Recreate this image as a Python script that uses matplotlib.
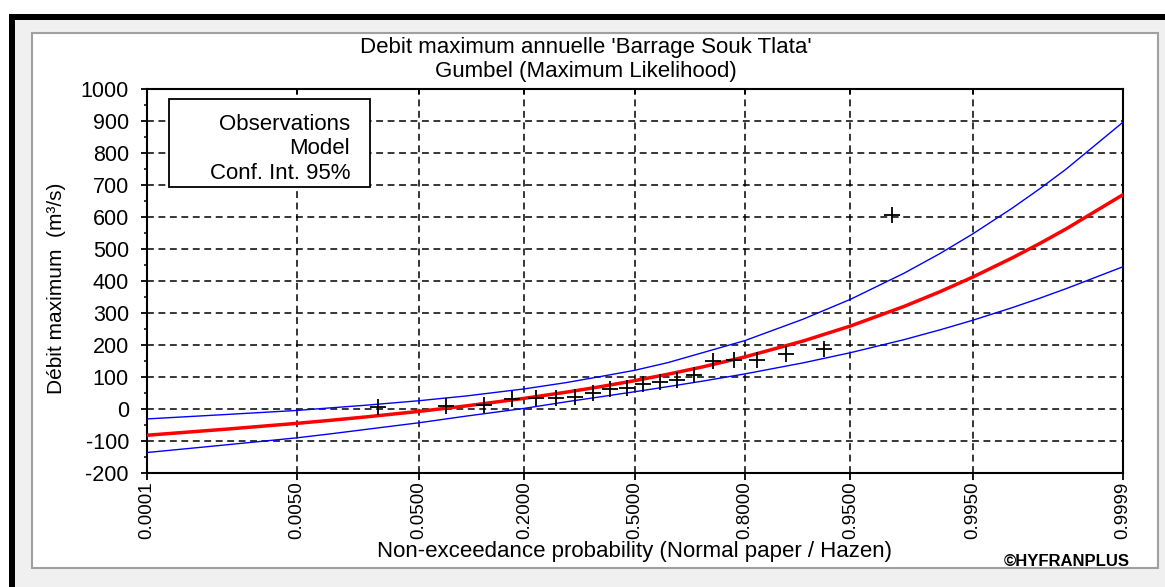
import numpy as np
import matplotlib
matplotlib.use("Agg")
import matplotlib.pyplot as plt
from matplotlib.patches import Rectangle
from statistics import NormalDist

# HYFRAN style Gumbel fit on normal probability paper

title_lines = ["Debit maximum annuelle 'Barrage Souk Tlata'", "Gumbel (Maximum Likelihood)"]
legend_labels = ["Observations", "Model", "Conf. Int. 95%"]
xlabel = "Non-exceedance probability (Normal paper / Hazen)"
ylabel = "Débit maximum  (m³/s)"

# 20 annual maxima, Hazen plotting positions, flows
obs_prob = [0.025, 0.075, 0.125, 0.175, 0.225, 0.275, 0.325, 0.375, 0.425, 0.475,
            0.525, 0.575, 0.625, 0.675, 0.725, 0.775, 0.825, 0.875, 0.925, 0.975]
obs_flow = [5, 9, 12, 32, 33, 35, 36, 50, 62, 65,
            78, 85, 90, 106, 151, 153, 154, 172, 186, 606]

# fitted model and 95% band, read at these probabilities
curve_prob = [0.0001, 0.0005, 0.001, 0.005, 0.01, 0.02, 0.05, 0.1, 0.2, 0.3, 0.4, 0.5,
              0.6, 0.7, 0.8, 0.9, 0.95, 0.98, 0.99, 0.995, 0.998, 0.999, 0.9995, 0.9999]
model_flow = [-82, -68.5, -62.2, -44.8, -35.6, -24.9, -7.4, 9.9, 33.4, 52.4, 70.3, 88.6,
              108.7, 132.2, 163.0, 212.2, 259.4, 320.6, 366.4, 412.0, 472.2, 517.7, 563.2, 668.8]
ci_upper = [-31, -21.2, -16.6, -4.5, 3.3, 11.7, 25.9, 40.9, 62.9, 82.4, 102.0, 121.0,
            145.0, 176.8, 214.0, 280.4, 342.8, 424.4, 485.6, 546.8, 627.7, 688.9, 750.1, 895.0]
ci_lower = [-136, -119, -111, -90, -78, -64, -43, -22, 2.0, 22.4, 38.6, 54.0,
            69.9, 87.6, 109.8, 144.0, 176.0, 216.8, 247.2, 277.2, 316.7, 346.5, 376.3, 444.0]

tick_prob = [0.0001, 0.005, 0.05, 0.2, 0.5, 0.8, 0.95, 0.995, 0.9999]

W, H = 1165, 587
plt.rcParams["font.family"] = ["Liberation Sans", "DejaVu Sans"]
plt.rcParams["axes.unicode_minus"] = False

nd = NormalDist()
_ppf = np.vectorize(nd.inv_cdf, otypes=[float])
_cdf = np.vectorize(nd.cdf, otypes=[float])


def to_z(p):
    p = np.clip(np.asarray(p, dtype=float), 1e-9, 1 - 1e-9)
    return _ppf(p)


def from_z(z):
    return _cdf(np.asarray(z, dtype=float))


def box(x0, y0, x1, y1, **kw):
    # rectangle given in screen pixels (top-left origin)
    return Rectangle((x0 / W, 1 - y1 / H), (x1 - x0) / W, (y1 - y0) / H,
                     transform=fig.transFigure, **kw)


fig = plt.figure(figsize=(W / 100, H / 100), dpi=100)
fig.patch.set_facecolor("white")
fig.add_artist(box(9, 14, W, H, facecolor="black", edgecolor="none", zorder=-3))
fig.add_artist(box(15, 20, W, H, facecolor="#f0f0f0", edgecolor="none", zorder=-2))
fig.add_artist(box(32, 33, 1158, 568, facecolor="white", edgecolor="#a0a0a0", lw=1.5, zorder=-1))

ax = fig.add_axes([147 / W, 1 - 473 / H, 975.5 / W, 384 / H])
ax.set_xscale("function", functions=(to_z, from_z))
ax.set_xlim(0.0001, 0.9999)
ax.set_ylim(-200, 1000)

ax.plot(curve_prob, ci_upper, color="#0000ff", lw=1.0, zorder=3)
ax.plot(curve_prob, ci_lower, color="#0000ff", lw=1.0, zorder=3)
ax.plot(curve_prob, model_flow, color="#ff0000", lw=2.5, zorder=4)
ax.plot(obs_prob, obs_flow, linestyle="none", marker="+", color="black",
        markersize=11, markeredgewidth=1.3, zorder=5)

ax.set_xticks(tick_prob)
ax.set_xticklabels([f"{p:.4f}" for p in tick_prob], rotation=90, fontsize=13.5)
ax.xaxis.set_minor_locator(matplotlib.ticker.NullLocator())
ax.set_yticks(np.arange(-200, 1001, 100))
ax.set_yticks(np.arange(-150, 1000, 100), minor=True)
ax.tick_params(axis="y", which="major", direction="out", length=4, width=1.3,
               labelsize=15.5, pad=9, right=False)
ax.tick_params(axis="y", which="minor", direction="out", length=2.2, width=1.1, right=False)
ax.tick_params(axis="x", which="major", direction="out", length=5, width=1.3, pad=1,
               top=False)

ax.grid(True, which="major", color="black", linestyle=(0, (4.5, 3)), linewidth=1.1, zorder=1)
ax.set_axisbelow(True)
for s in ax.spines.values():
    s.set_linewidth(1.5)

# inward ticks along the top edge
top = ax.twiny()
top.set_xscale("function", functions=(to_z, from_z))
top.set_xlim(ax.get_xlim())
top.set_xticks(tick_prob)
top.set_xticklabels([])
top.xaxis.set_minor_locator(matplotlib.ticker.NullLocator())
top.tick_params(axis="x", direction="in", length=3.5, width=1.3)
for s in top.spines.values():
    s.set_visible(False)

ax.set_xlabel(xlabel, fontsize=16)
ax.xaxis.set_label_coords(0.5, -0.177)
ax.set_ylabel(ylabel, fontsize=15)
ax.yaxis.set_label_coords(-0.083, 0.48)

# legend: plain text box, right aligned
ax.add_patch(Rectangle((0.0226, 0.745), 0.206, 0.229, transform=ax.transAxes,
                       facecolor="white", edgecolor="black", lw=1.3, zorder=6))
for lab, yb in zip(legend_labels, [0.893, 0.831, 0.766]):
    ax.text(0.2081, yb, lab, transform=ax.transAxes, ha="right", va="baseline",
            fontsize=16, zorder=7)

fig.text(586 / W, 1 - 47 / H, title_lines[0], ha="center", va="center", fontsize=16)
fig.text(586 / W, 1 - 72 / H, title_lines[1], ha="center", va="center", fontsize=16)
fig.text(1130 / W, 1 - 561 / H, "©HYFRANPLUS", ha="right", va="center",
         fontsize=12, fontweight="bold")

fig.savefig("out.png", dpi=100)
